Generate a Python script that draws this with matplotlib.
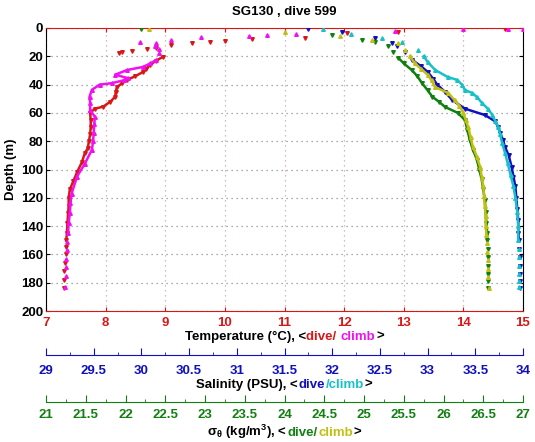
import numpy as np
import matplotlib
matplotlib.use("Agg")
import matplotlib.pyplot as plt
from matplotlib.ticker import MultipleLocator

plt.rcParams['font.family'] = ['Liberation Sans', 'DejaVu Sans']
plt.rcParams['font.weight'] = 'bold'
plt.rcParams['mathtext.default'] = 'regular'

# temperature, dive (red) and climb (magenta)
temp_dive_depth = [0.7, 2.5, 3.6, 7.0, 8.0, 9.5, 10.0, 10.7, 12.0, 14.0, 15.0, 16.0, 17.0, 18.0,
                   20.4, 23, 26, 29, 31, 34, 36.7, 39, 41.6, 45, 48.6, 52, 55.6, 57, 60, 65, 70,
                   75, 80, 85, 88.6, 95, 102, 108, 114, 120, 126, 131, 138, 145, 150, 155, 160,
                   166, 172, 178, 184]
temp_dive = [14.7, 12.9, 12.05, 11.35, 10.45, 10.0, 9.75, 9.45, 9.1, 8.85, 8.7, 8.45, 8.27, 8.22,
             8.96, 8.85, 8.75, 8.68, 8.63, 8.5, 8.36, 8.28, 8.19, 8.17, 8.16, 8.08, 7.96, 7.82,
             7.74, 7.75, 7.75, 7.74, 7.72, 7.7, 7.65, 7.6, 7.52, 7.46, 7.40, 7.38, 7.38, 7.37,
             7.36, 7.35, 7.34, 7.33, 7.33, 7.32, 7.31, 7.31, 7.30]
temp_climb_depth = [0.5, 0.7, 1.0, 2.0, 4.0, 5.0, 5.5, 6.7, 8.5, 10.0, 10.6, 13, 15, 18, 22.6, 25,
                    27.5, 29.7, 33, 35.5, 37, 39, 40, 43.7, 48.6, 53, 58, 62.7, 68, 74, 80, 86,
                    96, 105, 117, 124, 131, 138, 145, 151, 157, 163, 169, 175, 183]
temp_climb = [15.0, 14.75, 14.0, 12.85, 11.2, 10.7, 10.4, 9.6, 9.1, 8.58, 8.85, 8.83, 8.9, 8.9,
              8.85, 8.75, 8.63, 8.36, 8.16, 8.38, 8.3, 8.1, 7.9, 7.77, 7.73, 7.74, 7.74, 7.82,
              7.81, 7.8, 7.79, 7.77, 7.65, 7.52, 7.43, 7.41, 7.4, 7.38, 7.37, 7.36, 7.35, 7.34,
              7.33, 7.33, 7.32]

# salinity, dive (blue) and climb (cyan)
sal_dive_depth = [1, 3, 7, 10.8, 13, 17, 22.6, 27, 31, 36, 40, 45, 51, 57, 61.5, 66, 70, 74, 79,
                  84, 90, 98, 105, 112, 120, 128, 136, 145, 150, 156, 162, 168, 174, 179, 184]
sal_dive = [31.75, 32.1, 32.45, 32.63, 32.68, 32.76, 32.84, 32.93, 33.0, 33.06, 33.1, 33.18,
            33.26, 33.39, 33.6, 33.71, 33.74, 33.76, 33.79, 33.81, 33.85, 33.88, 33.9, 33.92,
            33.93, 33.94, 33.95, 33.95, 33.96, 33.96, 33.97, 33.97, 33.97, 33.97, 33.97]
sal_climb_depth = [1, 4, 7, 10, 15.5, 20, 24, 29.7, 34.6, 36.7, 40, 43.8, 46, 49, 53, 57, 61.5,
                   66, 70, 75, 81, 88, 95.6, 104, 112, 120, 130, 140, 150, 156, 162, 168, 174,
                   179, 183]
sal_climb = [31.9, 32.2, 32.52, 32.73, 32.9, 32.96, 33.0, 33.08, 33.21, 33.31, 33.36, 33.39,
             33.47, 33.52, 33.57, 33.63, 33.68, 33.71, 33.74, 33.76, 33.78, 33.81, 33.84, 33.87,
             33.9, 33.92, 33.94, 33.95, 33.95, 33.96, 33.96, 33.96, 33.96, 33.96, 33.96]

# sigma theta, dive (green) and climb (yellow)
sig_dive_depth = [0.5, 5, 8.5, 10, 13, 17, 21, 25, 29.7, 34, 39, 44, 48.6, 52, 55.8, 60, 65, 72,
                  79, 86, 93, 100, 107, 114, 121.5, 130, 138, 145, 150, 156, 162, 168, 174, 179,
                  184]
sig_dive = [22.2, 24.6, 24.97, 25.14, 25.3, 25.37, 25.43, 25.5, 25.6, 25.67, 25.73, 25.8, 25.86,
            25.94, 26.02, 26.18, 26.27, 26.3, 26.33, 26.37, 26.42, 26.45, 26.48, 26.5, 26.52,
            26.53, 26.54, 26.55, 26.55, 26.56, 26.56, 26.56, 26.56, 26.56, 26.56]
sig_climb_depth = [0.5, 3, 6, 8.5, 10.8, 15.5, 20, 25, 29, 33, 37, 41.6, 46, 51, 55, 60, 65, 70,
                   77, 84, 91, 98, 105, 112, 119, 126, 133, 140, 146, 152, 158, 164, 170, 176,
                   184]
sig_climb = [22.3, 24.0, 24.7, 25.1, 25.43, 25.52, 25.58, 25.64, 25.72, 25.8, 25.85, 25.89,
             26.06, 26.14, 26.2, 26.25, 26.28, 26.31, 26.34, 26.37, 26.42, 26.46, 26.48, 26.5,
             26.51, 26.52, 26.53, 26.53, 26.54, 26.55, 26.55, 26.56, 26.56, 26.56, 26.57]

RED = '#d81818'
MAG = '#f010f0'
BLUE = '#1010c0'
CYAN = '#18c0c8'
GREEN = '#108010'
YEL = '#c0c010'
FS = 9.5

fig = plt.figure(figsize=(5.35, 4.42), dpi=100)
ax = fig.add_axes([46 / 535, 1 - 311 / 442, 477 / 535, 283 / 442])
ax_s = ax.twiny()
ax_d = ax.twiny()


def profile(a, depth, vals, color, marker):
    depth = np.array(depth)
    vals = np.array(vals)
    m = (depth >= 20) & (depth <= 150)
    a.plot(vals[m], depth[m], color=color, lw=1.8, zorder=3)
    a.plot(vals, depth, ls='none', marker=marker, ms=2.6, color=color, mec=color, zorder=3)


profile(ax, temp_dive_depth, temp_dive, RED, 'v')
profile(ax, temp_climb_depth, temp_climb, MAG, '^')
profile(ax_s, sal_dive_depth, sal_dive, BLUE, 'v')
profile(ax_s, sal_climb_depth, sal_climb, CYAN, '^')
profile(ax_d, sig_dive_depth, sig_dive, GREEN, 'v')
profile(ax_d, sig_climb_depth, sig_climb, YEL, '^')

ax.set_xlim(7, 15)
ax.set_ylim(200, 0)
ax_s.set_xlim(29, 34)
ax_d.set_xlim(21, 27)
for a in (ax_s, ax_d):
    a.set_ylim(200, 0)
    a.axis('off')

ax.xaxis.set_major_locator(MultipleLocator(1))
ax.yaxis.set_major_locator(MultipleLocator(20))
ax.tick_params(axis='x', direction='in', colors=RED, length=3, top=True, labelsize=FS, pad=4)
ax.tick_params(axis='y', direction='in', color='black', length=3, right=True, labelsize=FS, pad=2)
for lab in ax.get_xticklabels() + ax.get_yticklabels():
    lab.set_fontweight('bold')
ax.spines['top'].set_color(RED)
ax.spines['bottom'].set_color(RED)
ax.xaxis.grid(True, color='#c8a8a8', ls=(0, (1, 3)), lw=0.9)
ax.yaxis.grid(True, color='#909090', ls=(0, (1, 3)), lw=0.9)
ax.set_axisbelow(True)
ax.set_ylabel('Depth (m)', fontsize=FS, fontweight='bold', labelpad=3)
fig.text(284.5 / 535, 1 - 12 / 442, 'SG130 , dive 599', fontsize=FS, fontweight='bold',
         ha='center', va='center')

# extra scales for salinity and density
for ypix, lo, hi, color, pad in [(355, 29, 34, BLUE, 7), (402, 21, 27, GREEN, 5)]:
    sa = fig.add_axes([46 / 535, 1 - ypix / 442, 477 / 535, 0.0001])
    sa.set_xlim(lo, hi)
    for s in ('top', 'left', 'right'):
        sa.spines[s].set_visible(False)
    sa.spines['bottom'].set_color(color)
    sa.set_yticks([])
    sa.xaxis.set_major_locator(MultipleLocator(0.5))
    sa.xaxis.set_minor_locator(MultipleLocator(0.25))
    sa.tick_params(axis='x', which='major', direction='in', colors=color, length=5, labelsize=FS, pad=pad)
    sa.tick_params(axis='x', which='minor', direction='in', colors=color, length=2.5)
    sa.set_xticklabels([('%g' % v) for v in sa.get_xticks()], fontweight='bold')
    sa.set_xlim(lo, hi)


def color_label(ypix, parts):
    texts = [fig.text(0, 1 - ypix / 442, s, color=c, fontsize=FS, fontweight='bold',
                      va='baseline', ha='left') for s, c in parts]
    fig.canvas.draw()
    r = fig.canvas.get_renderer()
    widths = [t.get_window_extent(r).width + 0.6 for t in texts]
    x0 = 284.5 - sum(widths) / 2
    for t, w in zip(texts, widths):
        t.set_x(x0 / 535)
        x0 += w


color_label(340, [('Temperature (°C), <', 'black'), ('dive/ ', RED), ('climb', MAG), ('>', 'black')])
color_label(388, [('Salinity (PSU), <', 'black'), ('dive', BLUE), ('/climb', CYAN), ('>', 'black')])
color_label(436, [(r'$\sigma_\theta$ (kg/m$^3$), <', 'black'), ('dive/', GREEN), ('climb', YEL),
                  ('>', 'black')])

fig.savefig('out.png', dpi=100)
